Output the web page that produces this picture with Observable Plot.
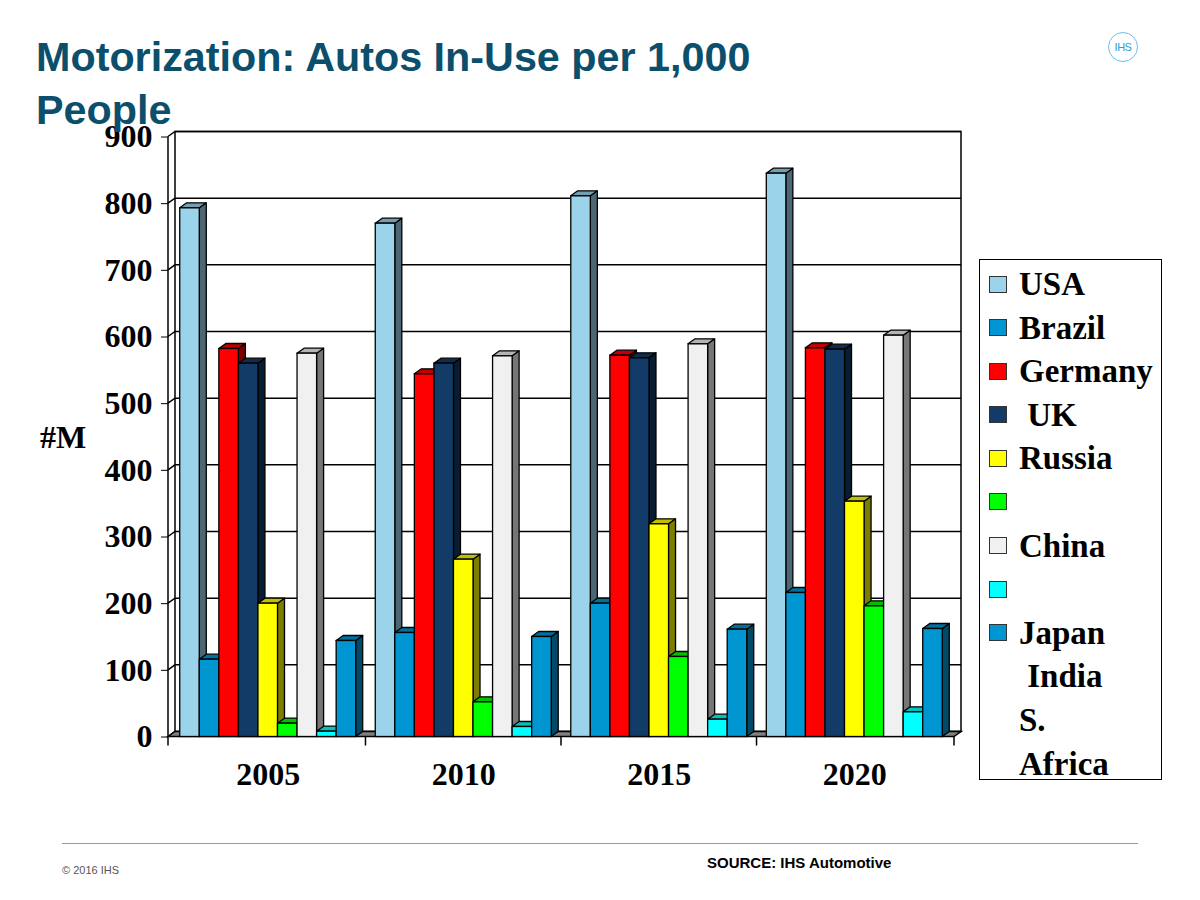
<!DOCTYPE html>
<html>
<head>
<meta charset="utf-8">
<script src="https://cdn.jsdelivr.net/npm/d3@7"></script>
<script src="https://cdn.jsdelivr.net/npm/@observablehq/plot@0.6"></script>
<style>
  body { margin: 0; background: #fff; }
  #page { position: relative; width: 1200px; height: 900px; overflow: hidden; background: #fff; }
  #title { position: absolute; left: 36px; top: 31px; font: bold 41.3px/53px "Liberation Sans", Arial, sans-serif; color: #0b4f6c; z-index: 3; white-space: nowrap; }
  #chart { position: absolute; left: 0; top: 100px; z-index: 1; }
  #ylab { position: absolute; left: 40px; top: 419px; font: bold 32px/36px "Liberation Serif", "Times New Roman", serif; color: #000; z-index: 2; }
  #legend { position: absolute; left: 979px; top: 259px; width: 181px; height: 516px; border: 1.5px solid #000; background: #fff; z-index: 2; padding-top: 3px; box-sizing: content-box; }
  .row { position: relative; height: 43.6px; font: bold 33px/43.6px "Liberation Serif", "Times New Roman", serif; color: #000; white-space: pre; }
  .sw { position: absolute; left: 9px; top: 12.5px; width: 16px; height: 15px; border: 1.5px solid #333; }
  .lt { position: absolute; left: 39px; top: 0; }
  #logo { position: absolute; left: 1108px; top: 32px; width: 28px; height: 28px; border: 1px solid #6cc0e6; border-radius: 50%; font: 11px/28px "Liberation Sans", Arial, sans-serif; color: #2a9fd6; text-align: center; letter-spacing: -0.5px; }
  #rule { position: absolute; left: 62px; top: 843px; width: 1076px; height: 0; border-top: 1px solid #9a9a9a; }
  #copy { position: absolute; left: 62px; top: 863px; font: 11px/14px "Liberation Sans", Arial, sans-serif; color: #555; }
  #source { position: absolute; left: 707px; top: 854px; font: bold 15px/18px "Liberation Sans", Arial, sans-serif; color: #000; }
</style>
</head>
<body>
<div id="page">
  <div id="title">Motorization: Autos In-Use per 1,000<br>People</div>
  <div id="logo">IHS</div>
  <div id="chart"></div>
  <div id="ylab">#M</div>
  <div id="legend"></div>
  <div id="rule"></div>
  <div id="copy">© 2016 IHS</div>
  <div id="source">SOURCE: IHS Automotive</div>
</div>
<script>
// ---- data ----
const years = ["2005", "2010", "2015", "2020"];
const series = ["USA", "Brazil", "Germany", "UK", "Russia", "India", "China", "S. Africa", "Japan"];
const usa     = [793, 770, 811, 845];
const brazil  = [116, 156, 200, 216];
const germany = [582, 544, 572, 583];
const uk      = [560, 560, 568, 581];
const russia  = [200, 266, 319, 353];
const india   = [20, 52, 120, 196];
const china   = [575, 571, 589, 602];
const safrica = [8, 15, 26, 37];
const japan   = [144, 150, 161, 162];
const yTicks = [0, 100, 200, 300, 400, 500, 600, 700, 800, 900];
const legendLabels = ["USA", "Brazil", "Germany", " UK", "Russia", "", "China", "", "Japan"];
const legendExtra = [" India", "S.", "Africa"];
const palette = ["#9bd3ea", "#0096d2", "#ff0000", "#123b67", "#ffff00", "#00ff00", "#f0f0f0", "#00ffff", "#0096d2"];

const seriesValues = [usa, brazil, germany, uk, russia, india, china, safrica, japan];
const table = [];
years.forEach((yr, j) => series.forEach((s, i) => table.push({year: yr, series: s, key: yr + " " + s, value: seriesValues[i][j]})));

// band domain: bars of each year, with one spacer slot between year groups
const xDomain = [];
years.forEach((yr, j) => {
  if (j > 0) xDomain.push("gap " + j);
  series.forEach(s => xDomain.push(yr + " " + s));
});
const midSeries = series[Math.floor(series.length / 2)];
const xTicks = years.map(yr => yr + " " + midSeries);

// 3D depth offsets
const DX = 7, DY = 5;

function walls(index, scales, vals, dims) {
  const {width: W, marginLeft: L, marginRight: R} = dims;
  const y = scales.y, x = scales.x;
  const xl = L, xr = W - R;
  const y0 = y(0), yT = y(yTicks[yTicks.length - 1]);
  const g = d3.create("svg:g").attr("fill", "none").attr("stroke", "#000").attr("stroke-width", 1.5);
  g.append("rect").attr("x", xl + DX).attr("y", yT - DY).attr("width", xr - xl).attr("height", y0 - yT).attr("fill", "#fff");
  for (const t of yTicks) {
    g.append("path").attr("d", `M${xl},${y(t)}L${xl + DX},${y(t) - DY}L${xr + DX},${y(t) - DY}`);
  }
  g.append("path").attr("d", `M${xl},${y0}L${xl + DX},${y0 - DY}L${xr + DX},${y0 - DY}L${xr},${y0}Z`).attr("fill", "#808080");
  g.append("path").attr("d", `M${xl},${yT}L${xl},${y0}`);
  // category boundary ticks: plot edges and centres of spacer slots
  const bounds = [xl, ...xDomain.filter(k => k.startsWith("gap")).map(k => x(k) + x.bandwidth() / 2), xr];
  for (const b of bounds) g.append("path").attr("d", `M${b},${y0}L${b},${y0 + 9}`);
  return g.node();
}

function bars3d(index, scales, vals, dims, ctx, next) {
  const g = next(index, scales, vals, dims, ctx);
  const bw = scales.x.bandwidth();
  const faces = d3.create("svg:g").attr("stroke", "#000").attr("stroke-width", 1.3).attr("stroke-linejoin", "round");
  for (const i of index) {
    const xa = vals.x[i], xb = xa + bw;
    const top = Math.min(vals.y1[i], vals.y2[i]), bot = Math.max(vals.y1[i], vals.y2[i]);
    const c = d3.color(vals.fill[i]);
    faces.append("path")
      .attr("d", `M${xb},${top}L${xb + DX},${top - DY}L${xb + DX},${bot - DY}L${xb},${bot}Z`)
      .attr("fill", c.darker(2).formatHex());
    faces.append("path")
      .attr("d", `M${xa},${top}L${xa + DX},${top - DY}L${xb + DX},${top - DY}L${xb},${top}Z`)
      .attr("fill", c.darker(0.8).formatHex());
  }
  g.insertBefore(faces.node(), g.firstChild);
  return g;
}

const W = 985, H = 700;
const chart = Plot.plot({
  width: W,
  height: H,
  marginTop: 36.5,
  marginBottom: 63.5,
  marginLeft: 168,
  marginRight: 31,
  style: {background: "transparent", fontFamily: "'Liberation Serif', 'Times New Roman', serif", fontSize: "32px", fontWeight: "bold", color: "#000", overflow: "visible"},
  x: {type: "band", domain: xDomain, paddingInner: 0, paddingOuter: 0.6, round: false, ticks: xTicks, tickFormat: d => d.split(" ")[0], tickSize: 0, tickPadding: 25.5, label: null},
  y: {domain: [0, 900], ticks: yTicks, tickSize: 7, tickPadding: 9, label: null},
  color: {domain: series, range: palette},
  marks: [
    Plot.frame({render: walls}),
    Plot.barY(table, {x: "key", y: "value", fill: "series", stroke: "#000", strokeWidth: 1.3, render: bars3d})
  ]
});
document.getElementById("chart").appendChild(chart);

// legend
const leg = document.getElementById("legend");
legendLabels.forEach((lab, i) => {
  const row = document.createElement("div");
  row.className = "row";
  const sw = document.createElement("div");
  sw.className = "sw";
  sw.style.background = palette[i];
  const t = document.createElement("div");
  t.className = "lt";
  t.textContent = lab;
  row.appendChild(sw);
  row.appendChild(t);
  leg.appendChild(row);
});
legendExtra.forEach(lab => {
  const row = document.createElement("div");
  row.className = "row";
  const t = document.createElement("div");
  t.className = "lt";
  t.textContent = lab;
  row.appendChild(t);
  leg.appendChild(row);
});
</script>
</body>
</html>
